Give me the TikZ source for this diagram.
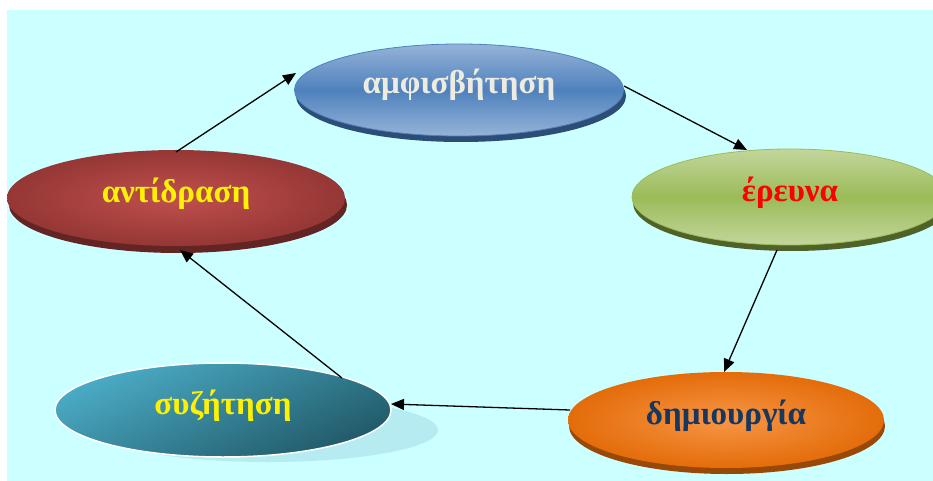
\documentclass[tikz,border=0pt]{standalone}
\usepackage{fontspec}
\setmainfont{Liberation Serif}
\usetikzlibrary{shapes.geometric,arrows.meta,shadings}
\definecolor{bgc}{HTML}{CCFFFF}
\definecolor{bluemid}{HTML}{4F81BD}
\definecolor{bluelight}{HTML}{95B3D7}
\definecolor{blueshadow}{HTML}{2C4D75}
\definecolor{greenmid}{HTML}{9BBB59}
\definecolor{greenlight}{HTML}{C3D69B}
\definecolor{greenshadow}{HTML}{4F6228}
\definecolor{redouter}{HTML}{953735}
\definecolor{redinner}{HTML}{C0504D}
\definecolor{redshadow}{HTML}{632523}
\definecolor{tealA}{HTML}{4BACC6}
\definecolor{tealB}{HTML}{215968}
\definecolor{tealshadow}{HTML}{B5EBF1}
\definecolor{orangeouter}{HTML}{E46C0A}
\definecolor{orangeinner}{HTML}{F79646}
\definecolor{orangeshadow}{HTML}{984807}
\definecolor{creamtext}{HTML}{EEECE1}
\definecolor{navytext}{HTML}{17375E}
\tikzset{
  oval/.style={ellipse, inner sep=0pt, text height=8pt, text depth=0pt,
    font=\fontsize{33}{36}\selectfont\bfseries},
  ovalshadow/.style={ellipse, inner sep=0pt, draw=none},
  flow/.style={-{Triangle[length=13pt,width=11pt]}, line width=1.3pt, black}
}
\begin{document}
\begin{tikzpicture}[x=1pt,y=-1pt]
\useasboundingbox (0,0) rectangle (933,481);
\fill[bgc] (7,10) rectangle (933,481);
% shadows
\node[ovalshadow, fill=blueshadow, minimum width=330pt, minimum height=92pt] at (461,96) {};
\node[ovalshadow, fill=greenshadow, minimum width=318pt, minimum height=96pt] at (792,203) {};
\node[ovalshadow, fill=redshadow, minimum width=338pt, minimum height=96pt] at (178,205) {};
\node[ovalshadow, fill=tealshadow, minimum width=340pt, minimum height=64pt] at (268,430) {};
\node[ovalshadow, fill=orangeshadow, minimum width=316pt, minimum height=96pt] at (727,426) {};
% ovals
\node[oval, top color=bluelight, bottom color=bluelight, middle color=bluemid, draw=bluemid, line width=0.8pt,
  minimum width=329pt, minimum height=92pt, text=creamtext] (amf) at (459,90) {\smash{αμφισβήτηση}};
\node[oval, top color=greenlight, bottom color=greenlight, middle color=greenmid, draw=greenmid, line width=0.8pt,
  minimum width=316pt, minimum height=96pt, text=red] (ere) at (790,197) {\smash{έρευνα}};
\node[oval, inner color=redinner, outer color=redouter,
  minimum width=338pt, minimum height=96pt, text=yellow] (ant) at (176,198) {\smash{αντίδραση}};
\node[oval, top color=tealA, bottom color=tealB, shading angle=25, draw=white, line width=1.5pt,
  minimum width=336pt, minimum height=94pt, text=yellow] (syz) at (223,410) {\smash{συζήτηση}};
\node[oval, inner color=orangeinner, outer color=orangeouter,
  minimum width=316pt, minimum height=96pt, text=navytext] (dim) at (726,420) {\smash{δημιουργία}};
% arrow end points
\coordinate (a1s) at (176,152);
\coordinate (a1e) at (296,73);
\coordinate (a2s) at (624,86);
\coordinate (a2e) at (747,150);
\coordinate (a3s) at (777,250);
\coordinate (a3e) at (724,372);
\coordinate (a4s) at (570,410);
\coordinate (a4e) at (391,404);
\coordinate (a5s) at (342,378);
\coordinate (a5e) at (180,250);
% arrows
\draw[flow] (a1s) -- (a1e);
\draw[flow] (a2s) -- (a2e);
\draw[flow] (a3s) -- (a3e);
\draw[flow] (a4s) -- (a4e);
\draw[flow] (a5s) -- (a5e);
\end{tikzpicture}
\end{document}
